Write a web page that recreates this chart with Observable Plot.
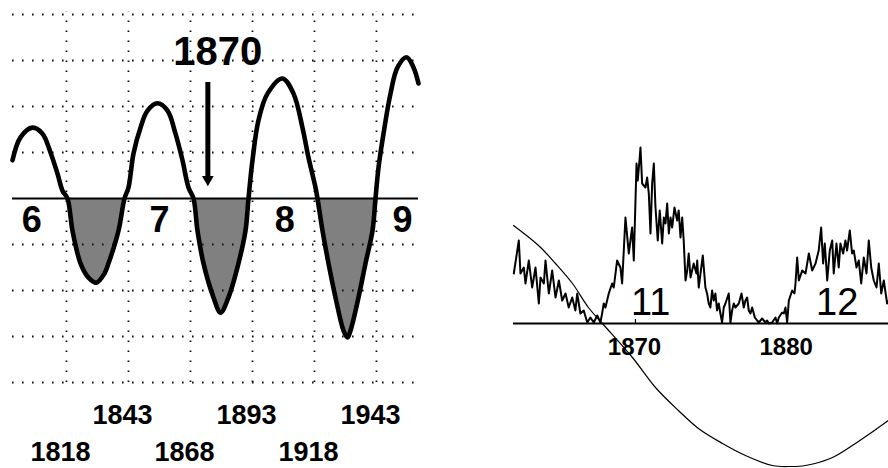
<!DOCTYPE html>
<html><head><meta charset="utf-8">
<script src="https://cdn.jsdelivr.net/npm/d3@7"></script>
<script src="https://cdn.jsdelivr.net/npm/@observablehq/plot@0.6"></script>
<style>
body{margin:0;background:#fff;}
#wrap{position:relative;width:888px;height:468px;overflow:hidden;background:#fff;}
#left{position:absolute;left:0;top:0;width:440px;height:468px;}
#right{position:absolute;left:500px;top:0;width:388px;height:468px;}
svg{overflow:visible}
</style></head><body>
<div id="wrap"><div id="left"></div><div id="right"></div></div>
<script>
// ---------- LEFT PANEL DATA ----------
const curveYear = [1796.23,1799.45,1804.29,1808.32,1811.55,1814.37,1816.39,1818.40,1820.42,1823.65,1826.87,1830.10,1833.32,1834.94,1838.97,1841.39,1843.00,1845.02,1847.84,1850.66,1854.69,1858.73,1861.95,1864.77,1867.19,1869.21,1870.82,1873.24,1877.27,1880.10,1883.32,1887.35,1890.18,1891.39,1893.00,1895.42,1899.05,1905.10,1909.54,1913.16,1915.58,1918.40,1919.21,1921.23,1923.65,1926.47,1929.70,1931.31,1932.52,1935.75,1938.58,1941.39,1942.60,1943.81,1945.83,1948.65,1951.47,1955.10,1957.92,1959.94];
const curveValue = [0.83,1.33,1.54,1.41,1.00,0.54,0.17,0,-0.70,-1.41,-1.72,-1.83,-1.63,-1.41,-0.70,0,0.24,0.98,1.54,1.91,2.07,1.91,1.41,0.83,0.24,0,-0.70,-1.41,-2.15,-2.48,-2.15,-1.41,-0.70,0,0.83,1.70,2.28,2.61,2.28,1.54,0.89,0.24,0,-0.70,-1.41,-2.15,-2.87,-3.02,-2.87,-2.15,-1.41,-0.70,0,0.67,1.41,2.28,2.85,3.07,2.85,2.50];
const tickYears = [1818,1843,1868,1893,1918,1943];
const gridLevels = [-4,-3,-2,-1,1,2,3,4];
const cycleNames = ["6","7","8","9"];
const cycleYears = [1804,1855.5,1906,1953.5];
const arrowLabel = "1870";
const arrowYear = 1875;

// ---------- RIGHT PANEL DATA ----------
const ssYear = [1861.98,1862.31,1862.42,1862.64,1862.75,1862.97,1863.19,1863.41,1863.63,1863.74,1863.96,1864.07,1864.29,1864.51,1864.73,1864.95,1865.17,1865.39,1865.60,1865.83,1866.04,1866.16,1866.37,1866.59,1866.82,1867.03,1867.25,1867.48,1867.69,1867.80,1867.91,1868.02,1868.24,1868.46,1868.57,1868.79,1869.01,1869.12,1869.23,1869.34,1869.56,1869.78,1869.89,1870.07,1870.15,1870.28,1870.33,1870.44,1870.66,1870.77,1870.88,1870.99,1871.10,1871.21,1871.32,1871.47,1871.60,1871.76,1871.87,1871.98,1872.09,1872.20,1872.31,1872.42,1872.57,1872.75,1872.85,1872.97,1873.08,1873.18,1873.30,1873.41,1873.51,1873.63,1873.84,1874.02,1874.07,1874.17,1874.44,1874.61,1874.72,1874.83,1874.94,1875.05,1875.16,1875.27,1875.38,1875.49,1875.60,1875.71,1875.82,1875.93,1876.15,1876.26,1876.37,1876.48,1876.59,1876.81,1876.99,1877.14,1877.25,1877.36,1877.47,1877.58,1877.69,1877.87,1878.02,1878.13,1878.35,1878.57,1878.68,1878.79,1879.01,1879.23,1879.34,1879.45,1879.67,1879.78,1879.89,1880.00,1880.11,1880.33,1880.48,1880.55,1880.66,1880.77,1880.99,1881.21,1881.43,1881.65,1881.87,1882.08,1882.24,1882.37,1882.48,1882.64,1882.81,1882.97,1883.07,1883.25,1883.40,1883.51,1883.69,1883.84,1883.95,1884.13,1884.28,1884.39,1884.57,1884.72,1884.88,1885.05,1885.23,1885.38,1885.54,1885.71,1885.89,1886.04,1886.20,1886.37,1886.59,1886.70];
const ssValue = [50,83,50,56,40,63,36,56,20,46,40,63,30,53,26,43,23,30,16,26,13,30,10,13,1,6,1,8,1,10,20,16,30,40,36,63,56,40,73,106,70,96,63,160,143,166,176,140,136,146,130,90,140,160,116,83,113,80,106,100,120,90,106,96,116,103,113,86,106,83,43,53,70,46,60,50,63,36,68,36,30,20,16,33,23,30,13,20,10,1,16,20,30,1,13,20,16,20,30,16,23,26,13,10,16,6,3,1,5,1,3,0,1,6,0,6,11,10,16,1,23,33,30,40,66,43,53,50,70,53,60,73,96,60,80,43,73,83,50,80,56,80,70,83,73,93,70,73,56,63,40,66,50,83,56,43,36,60,30,43,20,23];
const waveYear = [1861.96,1863.61,1864.73,1865.85,1866.90,1867.82,1869.80,1871.32,1872.83,1874.15,1875.74,1877.25,1879.03,1880.20,1881.21,1882.99,1884.50,1886.68];
const waveValue = [98,78,60,40,16,0,-34,-64,-87,-105,-120,-132,-142,-143,-142,-134,-120,-97];
const rightTicks = [1870,1880];
const rightCycleNames = ["11","12"];
const rightCycleYears = [1871.0,1883.3];

const FONT = "Liberation Sans, Arial, Helvetica, sans-serif";

const curve = curveYear.map((y,i)=>({year:y, v:curveValue[i]}));
const labels = tickYears.map((y,i)=>({year:y, row: i%2===0 ? -5.52 : -4.72, text:String(y)}));
const cycles = cycleNames.map((n,i)=>({year:cycleYears[i], text:n}));
const arrow = [{year:arrowYear, text:arrowLabel}];

const left = Plot.plot({
  width: 440, height: 468,
  marginLeft: 12, marginRight: 22, marginTop: 14, marginBottom: 86,
  x: {domain: [1796.23, 1959.94], axis: null},
  y: {domain: [-4, 4], axis: null},
  style: {background: "transparent", overflow: "visible"},
  marks: [
    Plot.areaY(curve, {x: "year", y1: 0, y2: d => d.v <= 0 ? d.v : NaN, fill: "#808080", curve: "catmull-rom"}),
    Plot.ruleY(gridLevels, {stroke: "#111", strokeWidth: 1.8, strokeDasharray: "1.6,8.4"}),
    Plot.ruleX(tickYears, {y1: -4, y2: 4.05, stroke: "#111", strokeWidth: 1.8, strokeDasharray: "1.6,8.4"}),
    Plot.ruleY([0], {stroke: "#000", strokeWidth: 1.8}),
    Plot.line(curve, {x: "year", y: "v", stroke: "#000", strokeWidth: 4.6, curve: "catmull-rom"}),
    Plot.ruleX(arrow, {x: "year", y1: (198-82)/46, y2: (198-177)/46, stroke: "#000", strokeWidth: 5}),
    Plot.dot(arrow, {x: "year", y: (198-179)/46, symbol: "triangle2", rotate: 180, r: 5.6, fill: "#000"}),
    Plot.text(arrow, {x: "year", y: (198-52)/46, dx: 10, text: "text", fontSize: 40, fontWeight: "bold", fontFamily: FONT}),
    Plot.text(cycles, {x: "year", y: -0.48, text: "text", fontSize: 36, fontWeight: "bold", fontFamily: FONT}),
    Plot.text(labels, {x: "year", y: "row", dx: -6, text: "text", fontSize: 27, fontWeight: "bold", fontFamily: FONT})
  ]
});
document.getElementById("left").appendChild(left);

const ss = ssYear.map((y,i)=>({year:y, v:ssValue[i]}));
const wave = waveYear.map((y,i)=>({year:y, v:waveValue[i]}));

const right = Plot.plot({
  width: 388, height: 468,
  marginLeft: 13, marginRight: 0, marginTop: 130, marginBottom: 0,
  x: {domain: [1861.96, 1886.68], axis: null},
  y: {domain: [-145, 193], axis: null},
  style: {background: "transparent", overflow: "visible"},
  marks: [
    Plot.line(wave, {x: "year", y: "v", stroke: "#000", strokeWidth: 1.2, curve: "catmull-rom"}),
    Plot.ruleY([0], {stroke: "#000", strokeWidth: 2}),
    Plot.ruleX(rightTicks, {y1: 0, y2: 4, stroke: "#000", strokeWidth: 1.2}),
    Plot.line(ss, {x: "year", y: "v", stroke: "#000", strokeWidth: 2}),
    Plot.text(rightTicks, {x: d => d, y: -24, dx: -1, text: d => String(d), fontSize: 24, fontWeight: "bold", fontFamily: FONT}),
    Plot.text(rightCycleNames, {x: (d,i) => rightCycleYears[i], y: 21, text: d => d, fontSize: 38, fontFamily: FONT})
  ]
});
document.getElementById("right").appendChild(right);
</script>
</body></html>
